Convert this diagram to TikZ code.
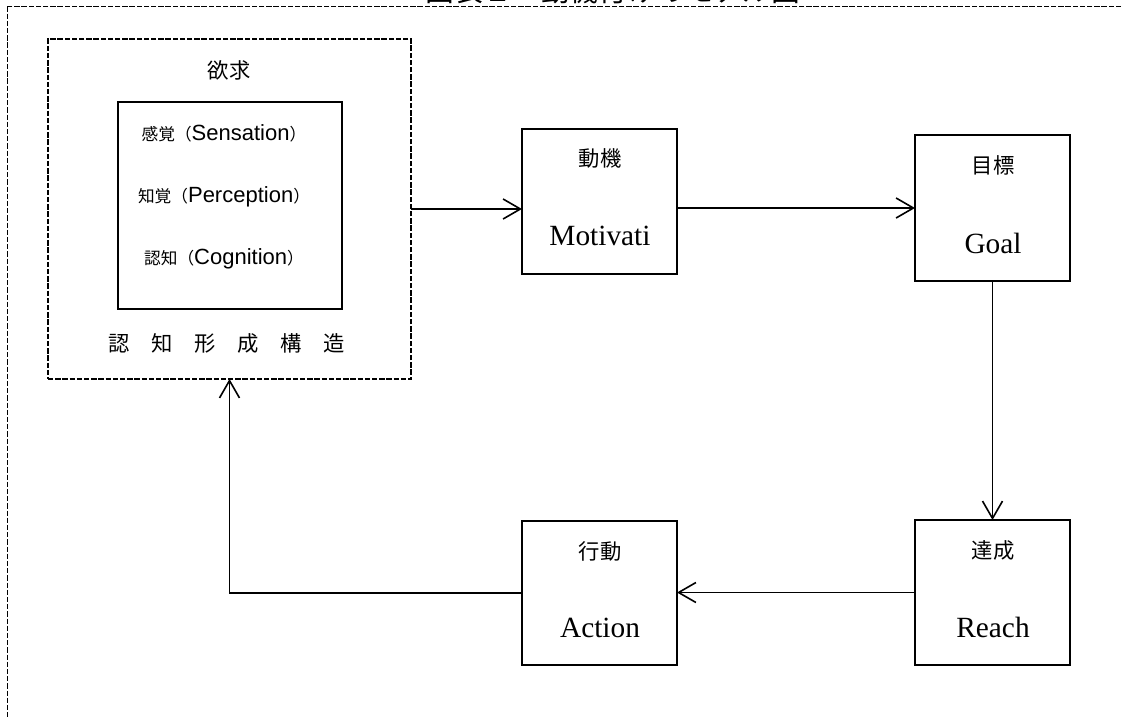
\documentclass[tikz,border=0pt]{standalone}
\usepackage{fontspec}
\setmainfont{Liberation Sans}
\newfontfamily\jp{Noto Sans CJK JP}
\newfontfamily\serifw{Liberation Serif}
\usetikzlibrary{arrows.meta}
\newcommand{\jps}[1]{{\jp\fontsize{12.5}{14}\selectfont #1}}
\newcommand{\lts}[1]{{\fontsize{16.5}{18}\selectfont #1}}
\begin{document}
\begin{tikzpicture}[x=0.75pt,y=-0.75pt,
  box/.style={draw,line width=1.25pt,minimum width=116.25pt,inner sep=0pt,outer sep=0pt},
  dline/.style={draw,line width=1.15pt,dash pattern=on 4pt off 1.4pt},
  arr/.style={line width=1.2pt,-{Straight Barb[length=13pt,width=15pt]}},
  jl/.style={font=\jp\fontsize{16}{18}\selectfont,inner sep=0pt},
  el/.style={font=\serifw\fontsize{22}{24}\selectfont,inner sep=0pt},
  rowl/.style={inner sep=0pt}]
\useasboundingbox (0,0) rectangle (1123,717);
\clip (0,0) rectangle (1123,717);
% outer frame
\draw[dline] (7.5,6.5) rectangle (1200,800);
% title (cut off at top)
\node[anchor=base,font=\jp\fontsize{21.6}{24}\selectfont,inner sep=0pt] (title) at (613,1.5) {図表１　動機付けのモデル図};
% want box
\node[dline,minimum width=272.25pt,minimum height=255pt,inner sep=0pt,outer sep=0pt] (want) at (229.5,209) {};
\node[draw,line width=1.25pt,minimum width=168pt,minimum height=155.25pt,inner sep=0pt,outer sep=0pt] (inner) at (230,205.5) {};
\node[jl] (wantl) at (229,70) {欲求};
\node[rowl] (r1) at (224,133) {\jps{感覚（}\lts{Sensation}\jps{）}};
\node[rowl] (r2) at (224,197) {\jps{知覚（}\lts{Perception}\jps{）}};
\node[rowl] (r3) at (224,259) {\jps{認知（}\lts{Cognition}\jps{）}};
\node[jl] (kozo) at (226.5,343) {認\hspace{16.25pt}知\hspace{16.25pt}形\hspace{16.25pt}成\hspace{16.25pt}構\hspace{16.25pt}造};
% boxes
\node[box,minimum height=108.75pt] (mot) at (599.5,201.5) {};
\node[box,minimum height=109.5pt] (goal) at (992.5,208) {};
\node[box,minimum height=108.75pt] (reach) at (992.5,592.5) {};
\node[box,minimum height=108pt] (act) at (599.5,593) {};
% labels
\node[jl] (motj) at (600,158) {動機};
\node[el] (mote) at (600,236) {Motivati};
\node[jl] (goalj) at (993,165) {目標};
\node[el] (goale) at (993,243) {Goal};
\node[jl] (reachj) at (993,550) {達成};
\node[el] (reache) at (993,627) {Reach};
\node[jl] (actj) at (600,551) {行動};
\node[el] (acte) at (600,628) {Action};
% connectors
\draw[arr] (want.east) -- (want.east -| mot.west);
\draw[arr] (goal.west -| mot.east) -- (goal.west);
\draw[arr] (goal.south) -- (reach.north);
\draw[arr] (reach.west) -- (reach.west -| act.east);
\draw[arr] (act.west) -| (want.south);
\end{tikzpicture}
\end{document}
